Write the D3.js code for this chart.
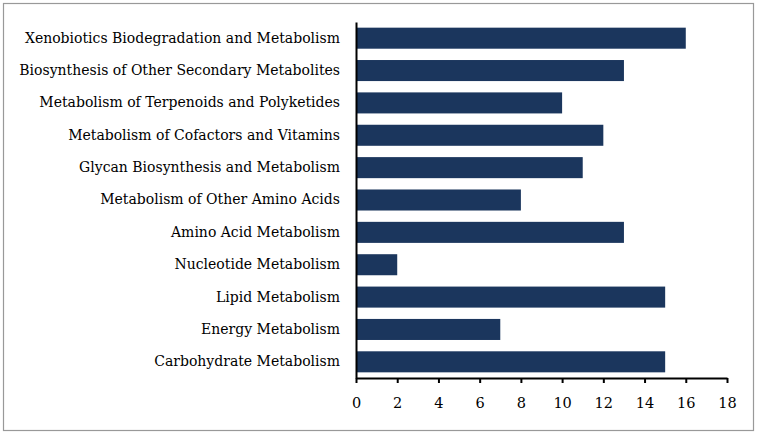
<!DOCTYPE html>
<html><head><meta charset="utf-8">
<script src="https://cdn.jsdelivr.net/npm/d3@7"></script>
<style>body{margin:0;background:#fff;} svg{display:block;} text.lbl{font-family:"DejaVu Serif",serif;}</style>
</head><body>
<svg id="c" width="758" height="435"></svg>
<script>
const categories = ["Xenobiotics Biodegradation and Metabolism","Biosynthesis of Other Secondary Metabolites","Metabolism of Terpenoids and Polyketides","Metabolism of Cofactors and Vitamins","Glycan Biosynthesis and Metabolism","Metabolism of Other Amino Acids","Amino Acid Metabolism","Nucleotide Metabolism","Lipid Metabolism","Energy Metabolism","Carbohydrate Metabolism"];
const values = [16,13,10,12,11,8,13,2,15,7,15];
const xTicks = [0,2,4,6,8,10,12,14,16,18];

(function(){
const svg = d3.select("#c");
svg.append("rect").attr("x",3.5).attr("y",3.5).attr("width",750).attr("height",427)
  .attr("fill","#fff").attr("stroke","#999").attr("stroke-width",1.2);

const mLeft=356, mRight=727, mTop=22, mBottom=378;
const x = d3.scaleLinear().domain([0,18]).range([mLeft,mRight]);
const y = d3.scaleBand().domain(categories).range([mTop,mBottom]).paddingInner(0.35).paddingOuter(0.175);

svg.selectAll(".bar").data(values).enter().append("rect")
  .attr("x",x(0)).attr("y",(d,i)=>y(categories[i]))
  .attr("width",d=>x(d)-x(0)).attr("height",y.bandwidth())
  .attr("fill","#1b365d");

const xa = svg.append("g").attr("transform",`translate(0,${mBottom})`)
  .call(d3.axisBottom(x).tickValues(xTicks).tickSize(5).tickSizeOuter(0).tickPadding(15));
xa.attr("font-family",null);
xa.select(".domain").attr("stroke","#000").attr("stroke-width",2);
xa.selectAll(".tick line").attr("stroke","#000").attr("stroke-width",2);
xa.selectAll("text").attr("class","lbl").attr("font-size",14.5).attr("fill","#000");

const ya = svg.append("g").attr("transform",`translate(${mLeft},0)`)
  .call(d3.axisLeft(y).tickSize(0).tickPadding(16));
ya.attr("font-family",null);
ya.select(".domain").attr("stroke","#000").attr("stroke-width",2);
ya.selectAll("text").attr("class","lbl").attr("font-size",14).attr("fill","#000");
})();
</script>
</body></html>
